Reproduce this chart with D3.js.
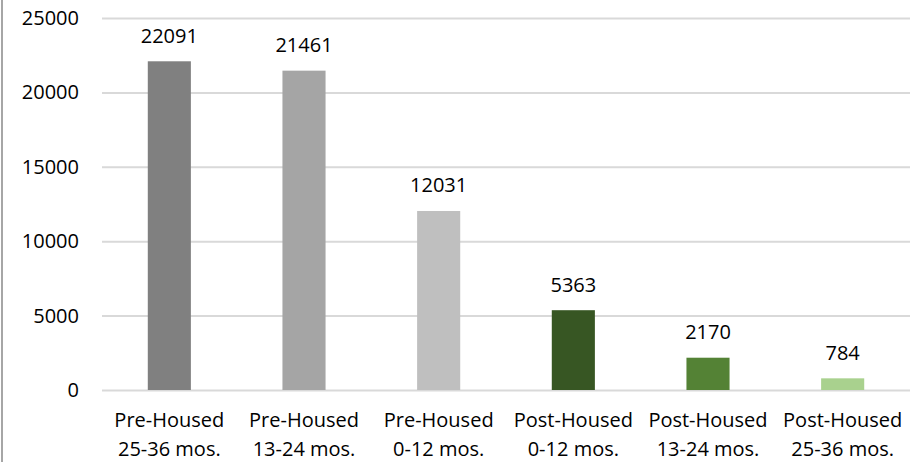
<!DOCTYPE html>
<html>
<head>
<meta charset="utf-8">
<script src="https://cdn.jsdelivr.net/npm/d3@7"></script>
<style>
  html, body { margin: 0; padding: 0; background: #fff; }
  svg { display: block; }
  text { font-family: "Open Sans", "Noto Sans", sans-serif; fill: #000; }
</style>
</head>
<body>
<svg id="chart" width="924" height="462"></svg>
<script>
// Categories: two-line labels (group, period)
const groups = ["Pre-Housed", "Pre-Housed", "Pre-Housed", "Post-Housed", "Post-Housed", "Post-Housed"];
const periods = ["25-36 mos.", "13-24 mos.", "0-12 mos.", "0-12 mos.", "13-24 mos.", "25-36 mos."];
const counts = [22091, 21461, 12031, 5363, 2170, 784];
const barColors = ["#808080", "#a5a5a5", "#bfbfbf", "#375623", "#548235", "#a9d18e"];
const yTicks = [0, 5000, 10000, 15000, 20000, 25000];

const svg = d3.select("#chart");
const W = 924, H = 462;
const plot = { left: 102, right: 910, top: 18, bottom: 390 };

const keys = counts.map((_, i) => i);

const x = d3.scaleBand()
  .domain(keys)
  .range([plot.left, plot.right])
  .paddingInner(0.68)
  .paddingOuter(0.34);

const y = d3.scaleLinear()
  .domain([0, 25000])
  .range([plot.bottom, plot.top]);

// Frame edge on the left
svg.append("line")
  .attr("x1", 2).attr("x2", 2)
  .attr("y1", 0).attr("y2", H)
  .attr("stroke", "#a6a6a6")
  .attr("stroke-width", 2);

// Horizontal gridlines + value axis labels
const yAxis = svg.append("g")
  .attr("transform", `translate(${plot.left},0)`)
  .call(d3.axisLeft(y)
    .tickValues(yTicks)
    .tickSize(-(plot.right - plot.left))
    .tickPadding(23)
    .tickFormat(d3.format("d")));
yAxis.select(".domain").remove();
yAxis.selectAll(".tick line")
  .attr("stroke", "#d9d9d9")
  .attr("stroke-width", 2);
yAxis.selectAll(".tick text")
  .attr("font-size", 20)
  .style("font-family", "'Open Sans', sans-serif")
  .attr("fill", "#000");

// Bars
svg.append("g")
  .selectAll("rect")
  .data(keys)
  .join("rect")
  .attr("x", i => x(i))
  .attr("width", x.bandwidth())
  .attr("y", i => y(counts[i]))
  .attr("height", i => y(0) - y(counts[i]))
  .attr("fill", i => barColors[i]);

// Value labels above bars
svg.append("g")
  .selectAll("text")
  .data(keys)
  .join("text")
  .attr("x", i => x(i) + x.bandwidth() / 2)
  .attr("y", i => y(counts[i]) - 18.5)
  .attr("text-anchor", "middle")
  .attr("font-size", 20)
  .text(i => counts[i]);

// Category labels (two lines)
const cat = svg.append("g")
  .selectAll("text")
  .data(keys)
  .join("text")
  .attr("text-anchor", "middle")
  .attr("font-size", 20);
cat.append("tspan")
  .attr("x", i => x(i) + x.bandwidth() / 2)
  .attr("y", 427)
  .text(i => groups[i]);
cat.append("tspan")
  .attr("x", i => x(i) + x.bandwidth() / 2)
  .attr("y", 456)
  .text(i => periods[i]);
</script>
</body>
</html>
